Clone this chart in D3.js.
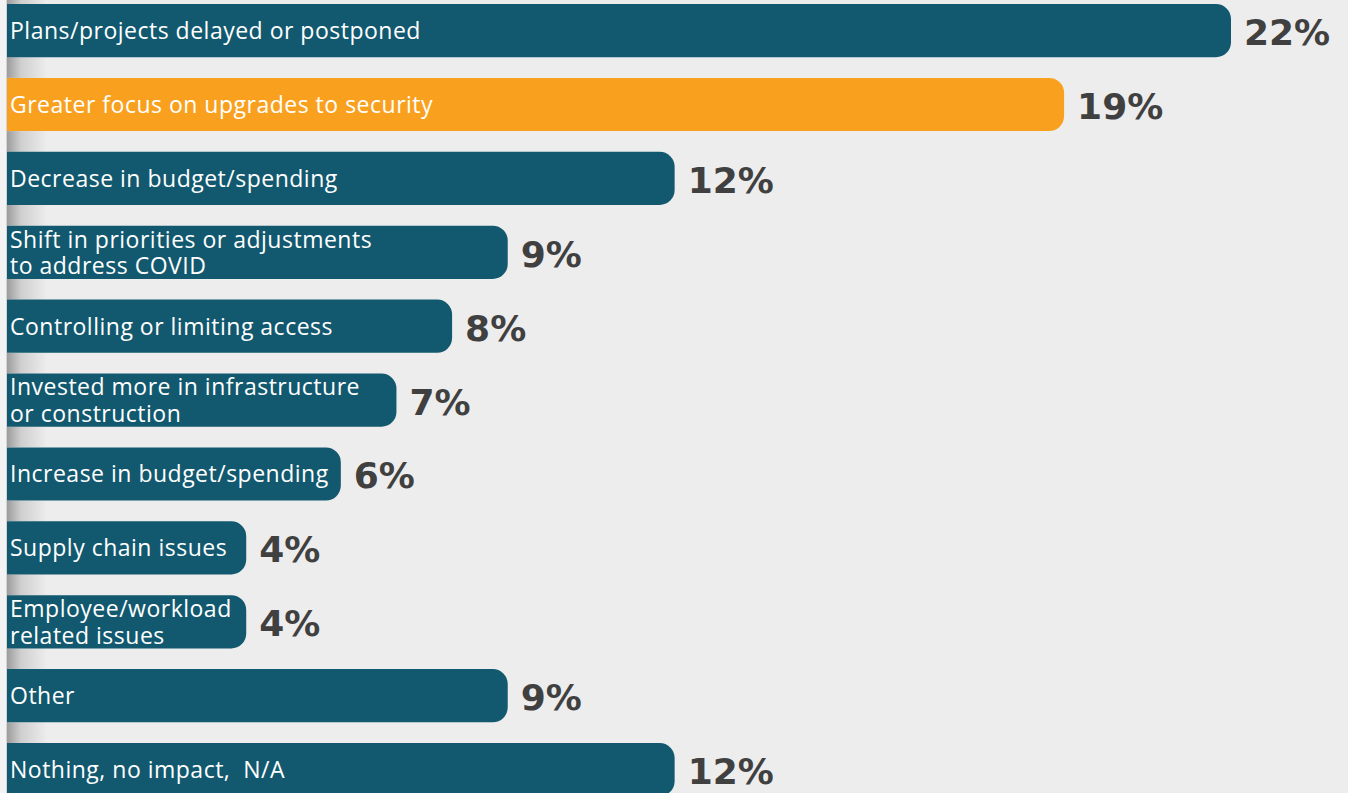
<!DOCTYPE html>
<html><head><meta charset="utf-8">
<script src="https://cdn.jsdelivr.net/npm/d3@7"></script>
<style>
html,body{margin:0;padding:0;background:#ededed;overflow:hidden}
svg{display:block}
</style></head>
<body>
<svg id="chart" width="1348" height="793"></svg>
<script>
const categories = [
  ["Plans/projects delayed or postponed"],
  ["Greater focus on upgrades to security"],
  ["Decrease in budget/spending"],
  ["Shift in priorities or adjustments", "to address COVID"],
  ["Controlling or limiting access"],
  ["Invested more in infrastructure", "or construction"],
  ["Increase in budget/spending"],
  ["Supply chain issues"],
  ["Employee/workload", "related issues"],
  ["Other"],
  ["Nothing, no impact,  N/A"]
];
const values = [22, 19, 12, 9, 8, 7, 6, 4.3, 4.3, 9, 12];
const valueLabels = ["22%", "19%", "12%", "9%", "8%", "7%", "6%", "4%", "4%", "9%", "12%"];
const highlight = [false, true, false, false, false, false, false, false, false, false, false];

const W = 1348, H = 793;
const svg = d3.select("#chart");
const ids = categories.map((c, i) => i);

const x = d3.scaleLinear().domain([0, 22]).range([7, 1231]);
const y = d3.scaleBand().domain(ids).range([4, 796.2]).paddingInner(0.28).paddingOuter(0);

// background
svg.append("rect").attr("x", 0).attr("y", 0).attr("width", W).attr("height", H).attr("fill", "#ededed");
svg.append("rect").attr("x", 0).attr("y", 0).attr("width", 6).attr("height", H).attr("fill", "#f3f3f3");
svg.append("line").attr("x1", 6.5).attr("x2", 6.5).attr("y1", 0).attr("y2", H).attr("stroke", "#d4d4d4").attr("stroke-width", 1);

const defs = svg.append("defs");
const grad = defs.append("linearGradient").attr("id", "shadow").attr("x1", 0).attr("x2", 1).attr("y1", 0).attr("y2", 0);
grad.append("stop").attr("offset", 0).attr("stop-color", "#9c9c9c");
grad.append("stop").attr("offset", 0.35).attr("stop-color", "#cfcfcf");
grad.append("stop").attr("offset", 1).attr("stop-color", "#ededed");

// shadow strips in gaps
svg.append("g").selectAll("rect").data(ids).join("rect")
  .attr("x", 7).attr("width", 40)
  .attr("y", d => d === 0 ? 0 : y(d - 1) + y.bandwidth())
  .attr("height", d => d === 0 ? y(0) : y(d) - (y(d - 1) + y.bandwidth()))
  .attr("fill", "url(#shadow)");

const r = 15;
function barPath(x0, x1, y0, h) {
  const rr = Math.min(r, (x1 - x0) / 2, h / 2);
  return `M${x0},${y0}H${x1 - rr}A${rr},${rr} 0 0 1 ${x1},${y0 + rr}V${y0 + h - rr}A${rr},${rr} 0 0 1 ${x1 - rr},${y0 + h}H${x0}Z`;
}

const g = svg.append("g");
g.selectAll("path.bar").data(ids).join("path")
  .attr("class", "bar")
  .attr("d", i => barPath(x(0), x(values[i]), y(i), y.bandwidth()))
  .attr("fill", i => highlight[i] ? "#f9a11f" : "#12596f");

// category labels
const labels = g.selectAll("text.cat").data(ids).join("text")
  .attr("class", "cat")
  .attr("font-family", "'Open Sans', 'Noto Sans', sans-serif")
  .attr("font-size", 23)
  .attr("letter-spacing", 0.5)
  .attr("fill", "#ffffff")
  .style("white-space", "pre");
labels.each(function(i) {
  const lines = categories[i];
  const cy = y(i) + y.bandwidth() / 2;
  const lh = 26.5;
  const t = d3.select(this);
  lines.forEach((ln, k) => {
    t.append("tspan")
      .attr("x", 10)
      .attr("y", cy + (k - (lines.length - 1) / 2) * lh + 8.5)
      .text(ln);
  });
});

// value labels
g.selectAll("text.val").data(ids).join("text")
  .attr("class", "val")
  .attr("x", i => x(values[i]) + 13)
  .attr("y", i => y(i) + y.bandwidth() / 2 + 14.5)
  .attr("font-family", "'DejaVu Sans', sans-serif")
  .attr("font-weight", 700)
  .attr("font-size", 36)
  .attr("fill", "#404040")
  .text(i => valueLabels[i]);
</script>
</body></html>
